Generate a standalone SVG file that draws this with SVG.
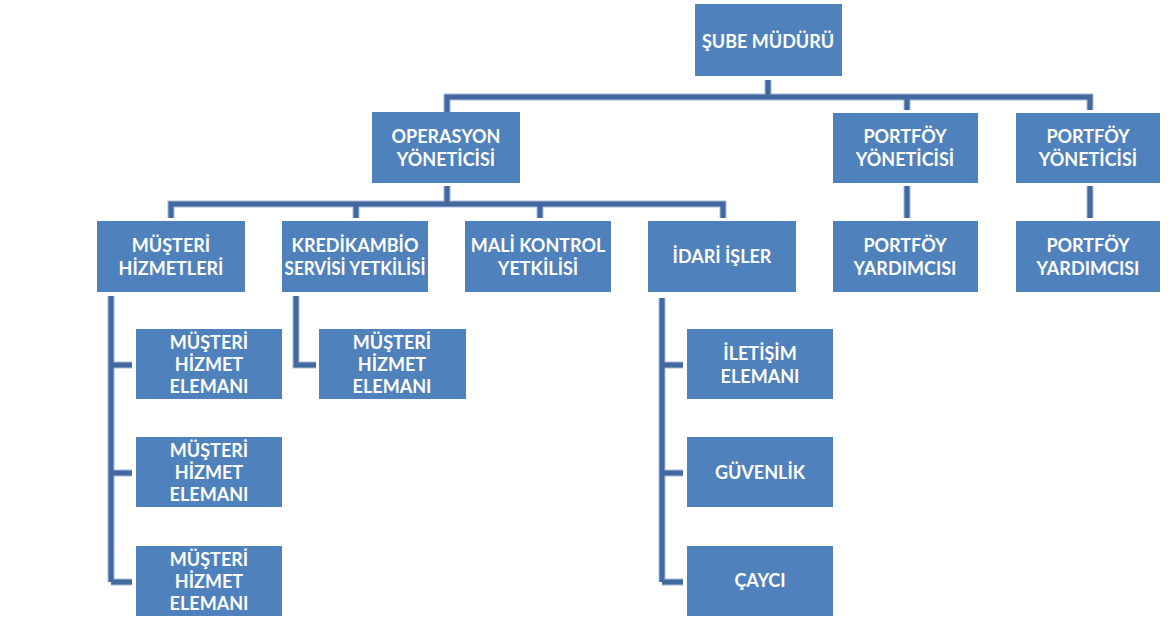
<svg xmlns="http://www.w3.org/2000/svg" width="1171" height="623" viewBox="0 0 1171 623">
  <style>
    .box { fill: #4f81bd; }
    .lbl { fill: #ffffff; font-family: Lato, "Liberation Sans", Arial, sans-serif; font-size: 18px; font-weight: bold; text-anchor: middle; dominant-baseline: central; }
    .edge-o { fill: none; stroke: #a8bcd8; stroke-width: 7; stroke-linejoin: miter; }
    .edge-i { fill: none; stroke: #41699d; stroke-width: 5; stroke-linejoin: miter; }
  </style>
  <defs>
    <path id="links" d="
      M768 80 V97 M447 112 V97 H1090 V110 M907 97 V110
      M447 186 V204 M171 218 V204 H723 V218 M356 204 V218 M540 204 V218
      M907 186 V218 M1090 186 V218
      M111 296 V582 M111 365 H132 M111 473 H132 M111 582 H132
      M296 296 V365 H316
      M662 298 V582 M662 365 H683 M662 473 H683 M662 582 H683"/>
  </defs>
  <rect width="1171" height="623" fill="#ffffff"/>

  <g id="connectors">
    <use href="#links" class="edge-o"/>
    <use href="#links" class="edge-i"/>
  </g>

  <g id="sube-muduru">
    <rect class="box" x="695" y="4" width="147" height="72"/>
    <text class="lbl" x="768" y="41">ŞUBE MÜDÜRÜ</text>
  </g>

  <g id="operasyon-yoneticisi">
    <rect class="box" x="372" y="112" width="148" height="71"/>
    <text class="lbl" x="446" y="136">OPERASYON</text>
    <text class="lbl" x="446" y="159">YÖNETİCİSİ</text>
  </g>

  <g id="portfoy-yoneticisi-1">
    <rect class="box" x="833" y="113" width="145" height="70"/>
    <text class="lbl" x="905" y="136">PORTFÖY</text>
    <text class="lbl" x="905" y="159">YÖNETİCİSİ</text>
  </g>

  <g id="portfoy-yoneticisi-2">
    <rect class="box" x="1016" y="113" width="144" height="70"/>
    <text class="lbl" x="1088" y="136">PORTFÖY</text>
    <text class="lbl" x="1088" y="159">YÖNETİCİSİ</text>
  </g>

  <g id="portfoy-yardimcisi-1">
    <rect class="box" x="833" y="221" width="145" height="71"/>
    <text class="lbl" x="905" y="245">PORTFÖY</text>
    <text class="lbl" x="905" y="268">YARDIMCISI</text>
  </g>

  <g id="portfoy-yardimcisi-2">
    <rect class="box" x="1016" y="221" width="144" height="71"/>
    <text class="lbl" x="1088" y="245">PORTFÖY</text>
    <text class="lbl" x="1088" y="268">YARDIMCISI</text>
  </g>

  <g id="musteri-hizmetleri">
    <rect class="box" x="97" y="221" width="148" height="71"/>
    <text class="lbl" x="171" y="245">MÜŞTERİ</text>
    <text class="lbl" x="171" y="268">HİZMETLERİ</text>
  </g>

  <g id="kredikambio">
    <rect class="box" x="282" y="221" width="146" height="71"/>
    <text class="lbl" x="355" y="245">KREDİKAMBİO</text>
    <text class="lbl" x="355" y="268" textLength="141" lengthAdjust="spacingAndGlyphs">SERVİSİ YETKİLİSİ</text>
  </g>

  <g id="mali-kontrol">
    <rect class="box" x="465" y="221" width="146" height="71"/>
    <text class="lbl" x="538" y="245">MALİ KONTROL</text>
    <text class="lbl" x="538" y="268">YETKİLİSİ</text>
  </g>

  <g id="idari-isler">
    <rect class="box" x="648" y="221" width="148" height="71"/>
    <text class="lbl" x="722" y="256">İDARİ İŞLER</text>
  </g>

  <g id="musteri-hizmet-elemani-1">
    <rect class="box" x="136" y="329" width="146" height="70"/>
    <text class="lbl" x="209" y="342">MÜŞTERİ</text>
    <text class="lbl" x="209" y="364">HİZMET</text>
    <text class="lbl" x="209" y="386">ELEMANI</text>
  </g>

  <g id="musteri-hizmet-elemani-2">
    <rect class="box" x="136" y="437" width="146" height="70"/>
    <text class="lbl" x="209" y="450">MÜŞTERİ</text>
    <text class="lbl" x="209" y="472">HİZMET</text>
    <text class="lbl" x="209" y="494">ELEMANI</text>
  </g>

  <g id="musteri-hizmet-elemani-3">
    <rect class="box" x="136" y="546" width="146" height="70"/>
    <text class="lbl" x="209" y="559">MÜŞTERİ</text>
    <text class="lbl" x="209" y="581">HİZMET</text>
    <text class="lbl" x="209" y="603">ELEMANI</text>
  </g>

  <g id="musteri-hizmet-elemani-4">
    <rect class="box" x="319" y="329" width="147" height="70"/>
    <text class="lbl" x="392" y="342">MÜŞTERİ</text>
    <text class="lbl" x="392" y="364">HİZMET</text>
    <text class="lbl" x="392" y="386">ELEMANI</text>
  </g>

  <g id="iletisim-elemani">
    <rect class="box" x="687" y="329" width="146" height="70"/>
    <text class="lbl" x="760" y="353">İLETİŞİM</text>
    <text class="lbl" x="760" y="376">ELEMANI</text>
  </g>

  <g id="guvenlik">
    <rect class="box" x="687" y="437" width="146" height="70"/>
    <text class="lbl" x="760" y="472">GÜVENLİK</text>
  </g>

  <g id="cayci">
    <rect class="box" x="687" y="546" width="146" height="70"/>
    <text class="lbl" x="760" y="580">ÇAYCI</text>
  </g>
</svg>
